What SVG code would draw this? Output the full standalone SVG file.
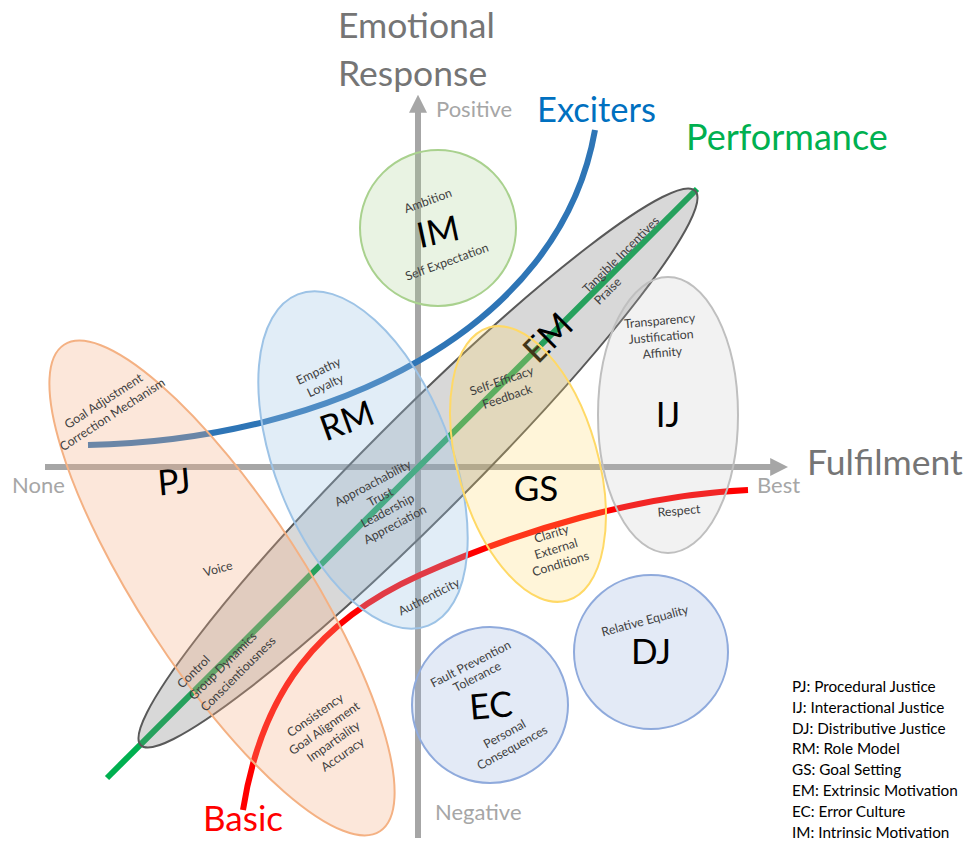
<svg xmlns="http://www.w3.org/2000/svg" width="973" height="842" viewBox="0 0 973 842">
  <style>
    text { font-family: Lato, "Liberation Sans", sans-serif; }
    .axis { stroke: #a6a6a6; stroke-width: 6; fill: none; }
    .curve { fill: none; stroke-width: 6; stroke-linecap: butt; }
    .ttl { fill: #757575; font-size: 35.5px; }
    .end { fill: #a6a6a6; font-size: 22px; }
    .lbl { fill: #404040; font-size: 12.3px; text-anchor: middle; }
    .lbl-s { fill: #404040; font-size: 12.3px; text-anchor: start; }
    .big { fill: #000000; font-size: 35px; text-anchor: middle; }
    .leg { fill: #000000; font-size: 15.3px; }
    .shape { stroke-width: 2; }
  </style>
  <defs>
    <marker id="arrow" viewBox="0 0 10 10" refX="1" refY="5" markerWidth="3" markerHeight="3" orient="auto" markerUnits="strokeWidth">
      <path d="M0,0 L10,5 L0,10 z" fill="#a6a6a6"/>
    </marker>
  </defs>

  <rect width="973" height="842" fill="#ffffff"/>

  <!-- axes -->
  <g id="axes">
    <line class="axis" x1="45" y1="467" x2="772" y2="467" marker-end="url(#arrow)"/>
    <line class="axis" x1="418" y1="838" x2="418" y2="111" marker-end="url(#arrow)"/>
    <text class="ttl" x="338" y="38">Emotional</text>
    <text class="ttl" x="338" y="86">Response</text>
    <text class="end" x="436" y="117">Positive</text>
    <text class="end" x="435" y="820">Negative</text>
    <text class="end" x="12" y="493">None</text>
    <text class="end" x="757" y="493">Best</text>
    <text class="ttl" x="807" y="475" font-size="36.5">Fulfilment</text>
  </g>

  <!-- Kano curves -->
  <g id="connectors">
    <line class="curve" x1="107" y1="778" x2="697" y2="189" stroke="#00b050"/>
    <path class="curve" d="M88,445 C330,440 560,330 595,130" stroke="#2e75b6"/>
    <path class="curve" d="M243,810 C262,690 320,620 420,575 C520,530 640,495 748,490" stroke="#ff0000" stroke-width="7"/>
    <text x="537" y="122" fill="#0070c0" font-size="34.5">Exciters</text>
    <text x="686" y="150" fill="#00b050" font-size="36">Performance</text>
    <text x="203" y="831" fill="#ff0000" font-size="35">Basic</text>
  </g>

  <!-- EM: Extrinsic Motivation -->
  <g id="node-em">
    <ellipse class="shape" cx="418" cy="468" rx="392" ry="51" transform="rotate(-45 418 468)" fill="#7f7f7f" fill-opacity="0.3" stroke="#595959" stroke-width="1.5"/>
    <g transform="translate(548 338) rotate(-45)"><text class="big" y="12">EM</text></g>
    <g transform="translate(623 253) rotate(-45)">
      <text class="lbl-s"><tspan x="-54" y="4">Tangible Incentives</tspan><tspan x="-54" y="20.3">Praise</tspan></text>
    </g>
  </g>

  <!-- PJ: Procedural Justice -->
  <g id="node-pj">
    <ellipse class="shape" cx="222" cy="588" rx="290" ry="83" transform="rotate(57 222 588)" fill="#f4b183" fill-opacity="0.3" stroke="#f4b183"/>
    <g transform="translate(108 408) rotate(-33)">
      <text class="lbl"><tspan x="0" y="-4">Goal Adjustment</tspan><tspan x="0" y="12">Correction Mechanism</tspan></text>
    </g>
    <g transform="translate(174 482) rotate(-5)"><text class="big" y="12">PJ</text></g>
    <g transform="translate(218 569) rotate(-15)"><text class="lbl" y="4">Voice</text></g>
    <g transform="translate(223 666) rotate(-45)">
      <text class="lbl-s"><tspan x="-45" y="-12.5">Control</tspan><tspan x="-45" y="4">Group Dynamics</tspan><tspan x="-45" y="20.5">Conscientiousness</tspan></text>
    </g>
    <g transform="translate(329 735) rotate(-35)">
      <text class="lbl"><tspan x="0" y="-20">Consistency</tspan><tspan x="0" y="-4">Goal Alignment</tspan><tspan x="0" y="12">Impartiality</tspan><tspan x="0" y="28">Accuracy</tspan></text>
    </g>
  </g>

  <!-- RM: Role Model -->
  <g id="node-rm">
    <ellipse class="shape" cx="363" cy="460" rx="178" ry="88" transform="rotate(68.5 363 460)" fill="#9dc3e6" fill-opacity="0.3" stroke="#9dc3e6"/>
    <g transform="translate(322 378.5) rotate(-25)">
      <text class="lbl"><tspan x="0" y="-4">Empathy</tspan><tspan x="0" y="12">Loyalty</tspan></text>
    </g>
    <g transform="translate(347 421) rotate(-20)"><text class="big" y="12">RM</text></g>
    <g transform="translate(384 504) rotate(-28)">
      <text class="lbl"><tspan x="0" y="-19.5">Approachability</tspan><tspan x="0" y="-3.8">Trust</tspan><tspan x="0" y="11.8">Leadership</tspan><tspan x="0" y="27.5">Appreciation</tspan></text>
    </g>
    <g transform="translate(429 597) rotate(-27)"><text class="lbl" y="4">Authenticity</text></g>
  </g>

  <!-- GS: Goal Setting -->
  <g id="node-gs">
    <ellipse class="shape" cx="528" cy="464" rx="142" ry="70" transform="rotate(74 528 464)" fill="#ffd966" fill-opacity="0.25" stroke="#ffd966"/>
    <g transform="translate(504.5 389) rotate(-19)">
      <text class="lbl"><tspan x="0" y="-4.4">Self-Efficacy</tspan><tspan x="0" y="12.4">Feedback</tspan></text>
    </g>
    <text class="big" x="536" y="501">GS</text>
    <g transform="translate(556 549) rotate(-17)">
      <text class="lbl"><tspan x="0" y="-11.7">Clarity</tspan><tspan x="0" y="4">External</tspan><tspan x="0" y="19.7">Conditions</tspan></text>
    </g>
  </g>

  <!-- IJ: Interactional Justice -->
  <g id="node-ij">
    <ellipse class="shape" cx="668" cy="415" rx="70" ry="138" fill="#bfbfbf" fill-opacity="0.2" stroke="#bfbfbf"/>
    <g transform="translate(661 337) rotate(-5)">
      <text class="lbl"><tspan x="0" y="-12">Transparency</tspan><tspan x="0" y="4">Justification</tspan><tspan x="0" y="20">Affinity</tspan></text>
    </g>
    <text class="big" x="668" y="427">IJ</text>
    <g transform="translate(679 511) rotate(-5)"><text class="lbl" y="4">Respect</text></g>
  </g>

  <!-- IM: Intrinsic Motivation -->
  <g id="node-im">
    <circle class="shape" cx="438" cy="228" r="78" fill="#a9d18e" fill-opacity="0.25" stroke="#a9d18e"/>
    <g transform="translate(428 201) rotate(-20)"><text class="lbl" y="4">Ambition</text></g>
    <g transform="translate(438 232) rotate(-12)"><text class="big" y="12">IM</text></g>
    <g transform="translate(447 262) rotate(-20)"><text class="lbl" y="4">Self Expectation</text></g>
  </g>

  <!-- EC: Error Culture -->
  <g id="node-ec">
    <circle class="shape" cx="490" cy="705" r="78" fill="#8faadc" fill-opacity="0.25" stroke="#8faadc"/>
    <g transform="translate(474 670.5) rotate(-27)">
      <text class="lbl"><tspan x="0" y="-3.2">Fault Prevention</tspan><tspan x="0" y="11.2">Tolerance</tspan></text>
    </g>
    <g transform="translate(491 706) rotate(-5)"><text class="big" y="12">EC</text></g>
    <g transform="translate(508.5 741) rotate(-29)">
      <text class="lbl"><tspan x="0" y="-3.8">Personal</tspan><tspan x="0" y="11.8">Consequences</tspan></text>
    </g>
  </g>

  <!-- DJ: Distributive Justice -->
  <g id="node-dj">
    <circle class="shape" cx="651" cy="652" r="77" fill="#8faadc" fill-opacity="0.25" stroke="#8faadc"/>
    <g transform="translate(645 621) rotate(-15)"><text class="lbl" y="4">Relative Equality</text></g>
    <text class="big" x="651" y="664">DJ</text>
  </g>

  <!-- legend -->
  <g id="legend">
    <text class="leg" x="792" y="692">PJ: Procedural Justice</text>
    <text class="leg" x="792" y="712.8">IJ: Interactional Justice</text>
    <text class="leg" x="792" y="733.6">DJ: Distributive Justice</text>
    <text class="leg" x="792" y="754.4">RM: Role Model</text>
    <text class="leg" x="792" y="775.2">GS: Goal Setting</text>
    <text class="leg" x="792" y="796">EM: Extrinsic Motivation</text>
    <text class="leg" x="792" y="816.8">EC: Error Culture</text>
    <text class="leg" x="792" y="837.6">IM: Intrinsic Motivation</text>
  </g>
</svg>
